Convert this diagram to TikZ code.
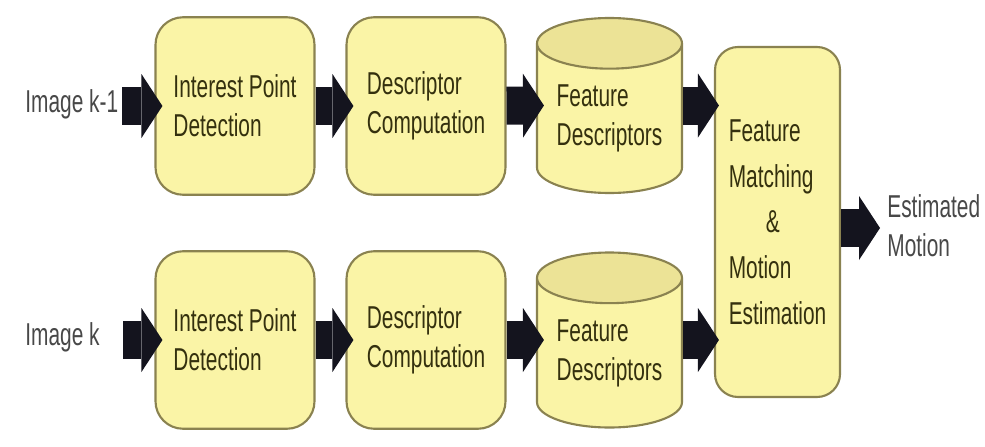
\documentclass[tikz,border=0pt]{standalone}
\usepackage{fontspec}
\setmainfont[FakeStretch=0.66]{Liberation Sans}
\usepackage{tikz}
\usetikzlibrary{positioning,arrows}
\usetikzlibrary{shapes,shapes.geometric}
\usetikzlibrary{arrows.meta}
\usepackage{xcolor}
\definecolor{boxfill}{RGB}{250,244,166}
\definecolor{capfill}{RGB}{236,227,150}
\definecolor{boxline}{RGB}{138,130,80}
\definecolor{boxtext}{RGB}{52,48,14}
\definecolor{labeltext}{RGB}{72,72,72}
\definecolor{arrowfill}{RGB}{20,20,30}

\begin{document}
\begin{tikzpicture}
	\useasboundingbox (0,0) rectangle (19.7,-8.92);
	\tikzstyle{every node}=[font=\fontsize{18pt}{22pt}\selectfont, text=boxtext, line width=1.2pt, align=left, inner sep=0pt]
	\tikzstyle{procbox}=[rectangle, rounded corners=0.55cm, draw=boxline, fill=boxfill, minimum width=3.18cm, minimum height=3.55cm]
	\tikzstyle{store}=[cylinder, shape border rotate=90, aspect=0.48, anchor=shape center, draw=boxline, cylinder uses custom fill, cylinder body fill=boxfill, cylinder end fill=capfill, minimum width=2.9cm, minimum height=3.5cm]
	\tikzstyle{blockarrow}=[draw=arrowfill, line width=0.76cm, -{Triangle[length=0.42cm, width=1.28cm, line width=0pt, fill=arrowfill]}, shorten >=-0.16cm]
	% upper row: image k-1
	\draw (4.70,-2.12) node (ip1) [procbox]{Interest Point\\Detection};
	\draw (8.52,-2.12) node (dc1) [procbox]{Descriptor\\Computation};
	\draw (12.19,-2.11) node (fd1) [store]{Feature\\Descriptors};
	% lower row: image k
	\draw (4.70,-6.80) node (ip2) [procbox]{Interest Point\\Detection};
	\draw (8.52,-6.80) node (dc2) [procbox]{Descriptor\\Computation};
	\draw (12.19,-6.80) node (fd2) [store]{Feature\\Descriptors};
	% matching stage
	\draw (15.55,-4.44) node (fm) [procbox, rounded corners=0.46cm, minimum width=2.5cm, minimum height=7cm, font=\fontsize{18pt}{26pt}\selectfont]{Feature\\Matching\\\hspace*{0.74cm}\&\\Motion\\Estimation};
	\tikzstyle{every node}=[font=\fontsize{18pt}{22pt}\selectfont, text=labeltext, inner sep=0pt, align=left]
	\draw (0.5,-2.08) node (im1) [anchor=west]{Image k-1};
	\draw (0.5,-6.74) node (im2) [anchor=west]{Image k};
	\draw (17.74,-4.52) node (est) [anchor=west]{Estimated\\Motion};
	\coordinate[left=0.64cm of ip1] (in1);
	\coordinate[left=0.62cm of ip2] (in2);
	\draw [blockarrow] (in1) to (ip1);
	\draw [blockarrow] (ip1) to (dc1);
	\draw [blockarrow] (dc1) to (fd1.shape center -| fd1.west);
	\draw [blockarrow, shorten >=-0.1cm] (fd1.shape center -| fd1.east) to (fd1.shape center -| fm.west);
	\draw [blockarrow] (in2) to (ip2);
	\draw [blockarrow] (ip2) to (dc2);
	\draw [blockarrow] (dc2) to (fd2.shape center -| fd2.west);
	\draw [blockarrow, shorten >=-0.1cm] (fd2.shape center -| fd2.east) to (fd2.shape center -| fm.west);
	\draw [blockarrow, shorten >=0.14cm] ([yshift=-0.12cm]fm.east) to ([yshift=-0.12cm]fm.east -| est.west);
\end{tikzpicture}
\end{document}
